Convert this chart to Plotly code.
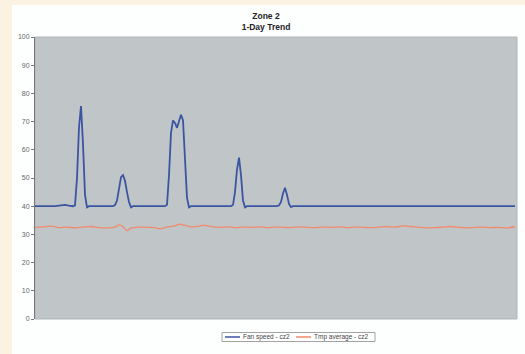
import plotly.graph_objects as go

# Fan speed samples (sample index, value)
fan_idx = [0, 10, 13, 15, 17, 19, 20, 21, 22, 23, 24, 25, 26, 27,
           39, 40, 41, 42, 43, 44, 45, 46, 47, 48, 49,
           65, 66, 67, 68, 69, 70, 71, 72, 73, 74, 75, 76, 77, 78,
           98, 99, 100, 101, 102, 103, 104, 105, 106,
           121, 122, 123, 124, 125, 126, 127, 128, 129, 240]
fan_val = [40, 40, 40.3, 40.5, 40.2, 40, 40.3, 50, 68, 75.5, 62, 44, 39.6, 40,
           40, 40.4, 42, 46.5, 50.3, 51, 49, 45, 41.5, 39.6, 40,
           40, 40.5, 51, 66, 70.4, 69.5, 67.8, 70, 72.4, 70.5, 57, 43, 39.6, 40,
           40, 40.5, 45, 53, 57.2, 51, 42, 39.6, 40,
           40, 40.3, 41.5, 44.5, 46.5, 44, 40.8, 39.7, 40, 40]

# Temperature average samples
tmp_idx = [0, 4, 8, 12, 16, 20, 24, 28, 32, 36, 40, 42, 44, 46, 48, 52, 56, 60, 62,
           66, 70, 72, 74, 78, 82, 84, 88, 92, 96, 100, 104, 108, 112, 116, 120,
           124, 128, 132, 136, 140, 144, 148, 152, 156, 160, 164, 168, 172, 176,
           180, 184, 188, 192, 196, 200, 204, 208, 212, 216, 220, 224, 228, 232,
           236, 240]
tmp_val = [32.5, 32.7, 32.9, 32.4, 32.6, 32.3, 32.6, 32.8, 32.4, 32.3, 32.6, 33.4,
           32.8, 31.3, 32.2, 32.6, 32.5, 32.4, 32.0, 32.6, 33.0, 33.6, 33.4, 32.7,
           32.9, 33.3, 32.8, 32.5, 32.7, 32.4, 32.6, 32.5, 32.7, 32.4, 32.6, 32.5,
           32.4, 32.7, 32.5, 32.4, 32.6, 32.5, 32.7, 32.4, 32.6, 32.5, 32.4, 32.6,
           32.8, 32.6, 33.0, 32.8, 32.5, 32.3, 32.4, 32.6, 32.8, 32.5, 32.3, 32.5,
           32.6, 32.4, 32.5, 32.3, 32.8]

y_ticks = [0, 10, 20, 30, 40, 50, 60, 70, 80, 90, 100]
series_names = ["Fan speed - cz2", "Tmp average - cz2"]
series_colors = ["#3b55a3", "#f28a6e"]

fig = go.Figure()
fig.add_trace(go.Scatter(x=fan_idx, y=fan_val, mode="lines", name=series_names[0],
                         line=dict(color=series_colors[0], width=1.8)))
fig.add_trace(go.Scatter(x=tmp_idx, y=tmp_val, mode="lines", name=series_names[1],
                         line=dict(color=series_colors[1], width=1.3, shape="spline")))

L, R, T, B = 35, 8, 37, 35
W, H = 525, 354
pw, ph = W - L - R, H - T - B

def px_x(px):
    return (px - L) / pw

def px_y(py):
    return (H - B - py) / ph

shapes = [
    dict(type="rect", xref="paper", yref="paper", layer="below",
         x0=px_x(12), x1=px_x(527), y0=px_y(356), y1=px_y(5),
         fillcolor="#fdfefe", line=dict(width=0)),
    dict(type="rect", xref="paper", yref="paper", layer="below",
         x0=0, x1=1, y0=0, y1=1, fillcolor="#c0c5c7",
         line=dict(color="#b0b5b7", width=1)),
    # legend box
    dict(type="rect", xref="paper", yref="paper", layer="above",
         x0=px_x(222), x1=px_x(375), y0=px_y(341.5), y1=px_y(332.5),
         fillcolor="white", line=dict(color="#8a8a8a", width=0.8)),
    dict(type="line", xref="paper", yref="paper", layer="above",
         x0=px_x(225), x1=px_x(240), y0=px_y(337), y1=px_y(337),
         line=dict(color=series_colors[0], width=1.5)),
    dict(type="line", xref="paper", yref="paper", layer="above",
         x0=px_x(296), x1=px_x(311), y0=px_y(337), y1=px_y(337),
         line=dict(color=series_colors[1], width=1.5)),
]
annotations = [
    dict(text=series_names[0], xref="paper", yref="paper", x=px_x(241), y=px_y(337),
         xanchor="left", yanchor="middle", showarrow=False,
         font=dict(size=6.5, color="#444444")),
    dict(text=series_names[1], xref="paper", yref="paper", x=px_x(312), y=px_y(337),
         xanchor="left", yanchor="middle", showarrow=False,
         font=dict(size=6.5, color="#444444")),
]

fig.update_layout(
    width=W, height=H,
    margin=dict(l=L, r=R, t=T, b=B, autoexpand=False),
    paper_bgcolor="#fbf2e2",
    plot_bgcolor="rgba(0,0,0,0)",
    font=dict(family="Liberation Sans, Arial, sans-serif", size=7, color="#555555"),
    title=dict(text="<b>Zone 2<br>1-Day Trend</b>", x=px_x(266), xref="paper",
               xanchor="center", y=1 - 19 / H, yanchor="top", yref="container",
               font=dict(size=8.5, color="#222222")),
    showlegend=False,
    shapes=shapes,
    annotations=annotations,
    xaxis=dict(range=[0, 241], showticklabels=False, showgrid=False, zeroline=False,
               ticks="", showline=False, automargin=False),
    yaxis=dict(range=[0, 100], tickvals=y_ticks, showgrid=False, zeroline=False,
               ticks="outside", ticklen=3, tickcolor="#777777", showline=True,
               linecolor="#777777", linewidth=1, automargin=False,
               tickfont=dict(size=7, color="#666666")),
)

fig.write_html("out.html", config={"displayModeBar": False},
               post_script="document.body.style.margin='0';document.body.style.overflow='hidden';")
